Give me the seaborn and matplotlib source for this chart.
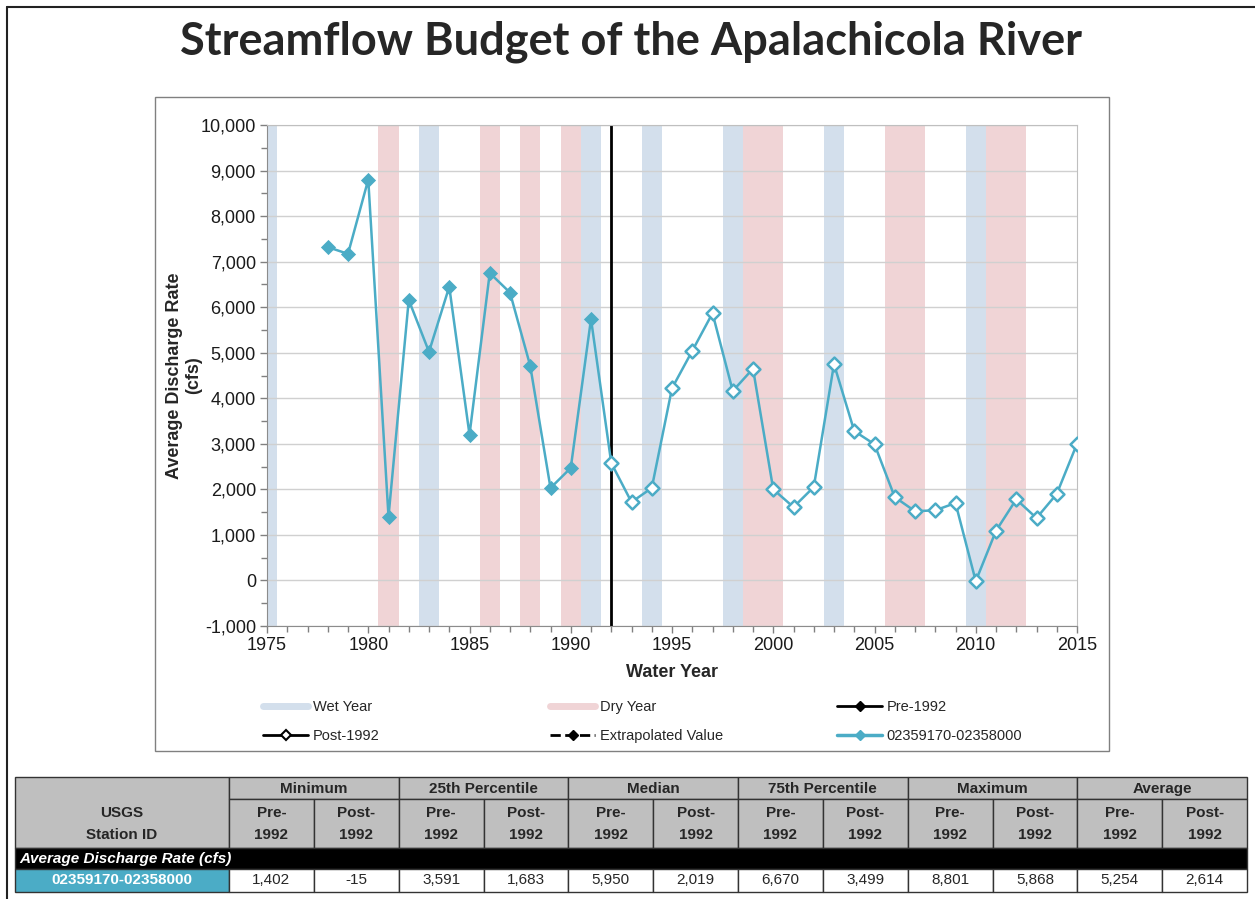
import matplotlib.pyplot as plt
import numpy as np
import pandas as pd
import seaborn as sns
from matplotlib.lines import Line2D
from matplotlib.patches import Rectangle
from matplotlib.ticker import FuncFormatter, MultipleLocator

# Data
years = list(range(1978, 2016))
discharge = [7320, 7170, 8801, 1402, 6160, 5020, 6450, 3200, 6750, 6320, 4710, 2030, 2470, 5740,
             2580, 1720, 2030, 4220, 5040, 5868, 4160, 4650, 2000, 1610, 2050, 4750, 3280, 2990,
             1830, 1520, 1540, 1700, -15, 1090, 1780, 1370, 1900, 3000]
wet_years = [1975, 1983, 1991, 1994, 1998, 2003, 2010]
dry_years = [1981, 1986, 1988, 1990, 1999, 2000, 2006, 2007, 2011, 2012]
split_year = 1992

station = '02359170-02358000'
stat_names = ['Minimum', '25th Percentile', 'Median', '75th Percentile', 'Maximum', 'Average']
pre_stats = [1402, 3591, 5950, 6670, 8801, 5254]
post_stats = [-15, 1683, 2019, 3499, 5868, 2614]

CYAN = '#4bacc6'
WET = '#d3dfec'
DRY = '#f0d4d6'

sns.set_style('white')
plt.rcParams['font.family'] = ['Liberation Sans', 'DejaVu Sans']

W, H = 1255, 899
fig = plt.figure(figsize=(W / 100, H / 100), dpi=100)

# Background overlay in pixel coordinates (frames, title, table)
bg = fig.add_axes([0, 0, 1, 1], zorder=-1)
bg.set_xlim(0, W)
bg.set_ylim(H, 0)
bg.axis('off')

bg.plot([7, 7], [7, H], color='#222222', lw=1.5)
bg.plot([7, W], [7, 7], color='#222222', lw=1.5)
bg.add_patch(Rectangle((155, 97), 954, 654, fc='white', ec='#808080', lw=1))

fig.text(0.503, 1 - 42 / H, 'Streamflow Budget of the Apalachicola River',
         ha='center', va='center', fontsize=32.5, weight='bold',
         family=['Lato', 'DejaVu Sans'])

# Main chart
ax = fig.add_axes([267 / W, 1 - 626 / H, 810 / W, 501 / H])

df = pd.DataFrame({'year': years, 'discharge': discharge})
df['period'] = np.where(df['year'] < split_year, 'Pre-1992', 'Post-1992')

for yr in wet_years:
    ax.axvspan(yr - 0.5, yr + 0.5, color=WET, lw=0, zorder=0.2)
for yr in dry_years:
    ax.axvspan(yr - 0.5, yr + 0.5, color=DRY, lw=0, zorder=0.2)

ax.axvline(split_year, color='black', lw=2, zorder=2)

sns.lineplot(data=df, x='year', y='discharge', color=CYAN, lw=1.8, ax=ax, zorder=3)
sns.scatterplot(data=df[df['period'] == 'Pre-1992'], x='year', y='discharge',
                marker='D', s=60, color=CYAN, linewidth=0, zorder=4, ax=ax)
sns.scatterplot(data=df[df['period'] == 'Post-1992'], x='year', y='discharge',
                marker='D', s=50, facecolor='white', edgecolor=CYAN, linewidth=1.8,
                zorder=4, ax=ax)

ax.set_xlim(1975, 2015)
ax.set_ylim(-1000, 10000)
ax.xaxis.set_major_locator(MultipleLocator(5))
ax.xaxis.set_minor_locator(MultipleLocator(1))
ax.yaxis.set_major_locator(MultipleLocator(1000))
ax.yaxis.set_minor_locator(MultipleLocator(500))
ax.yaxis.set_major_formatter(FuncFormatter(lambda v, _: f'{v:,.0f}'))
ax.tick_params(which='both', direction='out', color='#808080', labelsize=13,
               labelcolor='#1a1a1a')
ax.tick_params(which='major', length=5, width=1, pad=3)
ax.tick_params(which='minor', length=4, width=1)
ax.tick_params(axis='x', which='both', bottom=True)
ax.tick_params(axis='y', which='both', left=True)
ax.set_axisbelow(True)
ax.grid(axis='y', color='#d0d0d0', lw=1, zorder=0.5)
for side in ('left', 'bottom'):
    ax.spines[side].set_color('#8c8c8c')
for side in ('top', 'right'):
    ax.spines[side].set_color('#bfbfbf')

ax.set_xlabel('Water Year', fontsize=13, weight='bold', labelpad=7)
ax.set_ylabel('Average Discharge Rate\n(cfs)', fontsize=13, weight='bold')
ax.yaxis.set_label_coords(-0.08, 0.5)

# Legend: three columns, two rows
legend_cols = [
    [Line2D([], [], color=WET, lw=5), 'Wet Year',
     Line2D([], [], color='black', lw=2, marker='D', ms=5, mfc='white', mec='black', mew=1.5),
     'Post-1992'],
    [Line2D([], [], color=DRY, lw=5), 'Dry Year',
     Line2D([], [], color='black', lw=2, ls='--', marker='D', ms=5), 'Extrapolated Value'],
    [Line2D([], [], color='black', lw=2, marker='D', ms=5), 'Pre-1992',
     Line2D([], [], color=CYAN, lw=2.5, marker='D', ms=5), station],
]
for x_px, (h1, l1, h2, l2) in zip([250, 537, 824], legend_cols):
    fig.legend([h1, h2], [l1, l2], loc='upper left',
               bbox_to_anchor=(x_px / W, 1 - 687 / H), frameon=False,
               handlelength=3.1, handletextpad=0.3, labelspacing=1.0,
               prop={'family': ['Liberation Sans Narrow', 'Liberation Sans'], 'size': 10.5})

# Summary table
col_edges = np.linspace(229, 1247, 13)
row_y = [777, 799, 848, 869, 892]
GRAY = '#bfbfbf'
EDGE = '#333333'
tab_font = dict(family=['Liberation Sans', 'DejaVu Sans'], fontsize=11, weight='bold')

bg.add_patch(Rectangle((15, row_y[0]), 214, row_y[2] - row_y[0], fc=GRAY, ec=EDGE, lw=1))
bg.text(122, 813, 'USGS', ha='center', va='center', **tab_font)
bg.text(122, 835, 'Station ID', ha='center', va='center', **tab_font)

for i, name in enumerate(stat_names):
    x0, x1 = col_edges[2 * i], col_edges[2 * i + 2]
    bg.add_patch(Rectangle((x0, row_y[0]), x1 - x0, row_y[1] - row_y[0], fc=GRAY, ec=EDGE, lw=1))
    bg.text((x0 + x1) / 2, (row_y[0] + row_y[1]) / 2 + 1, name, ha='center', va='center', **tab_font)

for j in range(12):
    x0, x1 = col_edges[j], col_edges[j + 1]
    head = 'Pre-' if j % 2 == 0 else 'Post-'
    bg.add_patch(Rectangle((x0, row_y[1]), x1 - x0, row_y[2] - row_y[1], fc=GRAY, ec=EDGE, lw=1))
    bg.text((x0 + x1) / 2, 813, head, ha='center', va='center', **tab_font)
    bg.text((x0 + x1) / 2, 835, '1992', ha='center', va='center', **tab_font)

bg.add_patch(Rectangle((15, row_y[2]), 1232, row_y[3] - row_y[2], fc='black', ec=EDGE, lw=1))
bg.text(19, (row_y[2] + row_y[3]) / 2, 'Average Discharge Rate (cfs)', ha='left', va='center',
        color='white', style='italic', **tab_font)

bg.add_patch(Rectangle((15, row_y[3]), 214, row_y[4] - row_y[3], fc=CYAN, ec=EDGE, lw=1))
bg.text(122, (row_y[3] + row_y[4]) / 2, station, ha='center', va='center', color='white', **tab_font)

values = [v for pair in zip(pre_stats, post_stats) for v in pair]
for j, v in enumerate(values):
    x0, x1 = col_edges[j], col_edges[j + 1]
    bg.add_patch(Rectangle((x0, row_y[3]), x1 - x0, row_y[4] - row_y[3], fc='white', ec=EDGE, lw=1))
    bg.text((x0 + x1) / 2, (row_y[3] + row_y[4]) / 2, f'{v:,}', ha='center', va='center',
            family=['Liberation Sans', 'DejaVu Sans'], fontsize=11)

fig.savefig('out.png', dpi=100)
